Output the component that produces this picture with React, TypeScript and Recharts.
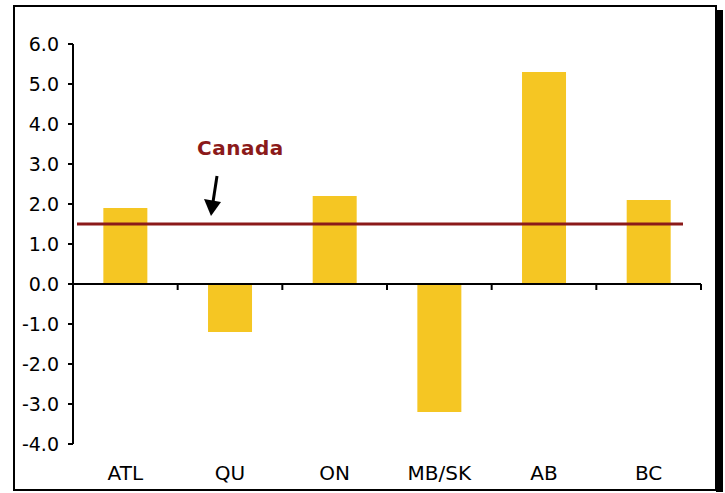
import React from 'react';
import {
  BarChart,
  Bar,
  XAxis,
  YAxis,
  ReferenceLine,
  Customized,
} from 'recharts';

const CATEGORIES = ['ATL', 'QU', 'ON', 'MB/SK', 'AB', 'BC'];
const GROWTH = [1.9, -1.2, 2.2, -3.2, 5.3, 2.1];
const CANADA_AVG = 1.5;
const Y_TICKS = [-4, -3, -2, -1, 0, 1, 2, 3, 4, 5, 6];

const FONT = '"DejaVu Sans", Verdana, sans-serif';
const BAR_COLOR = '#F5C623';
const CANADA_COLOR = '#8B1A1A';

const data = CATEGORIES.map((name, i) => ({ name, value: GROWTH[i] }));

// shortened version of the reference line, like in the original chart
function CanadaLine(props: any) {
  const { x1, x2, y1 } = props;
  return (
    <line
      x1={x1 + 4}
      x2={x2 - 18}
      y1={y1}
      y2={y1}
      stroke={CANADA_COLOR}
      strokeWidth={3}
    />
  );
}

function Annotation() {
  return (
    <g>
      {/* frame with shadow */}
      <rect x={14} y={6} width={702} height={484} fill="none" stroke="#000" strokeWidth={2} />
      <rect x={716} y={10} width={7} height={482} fill="#000" />
      <text
        x={197}
        y={155}
        fill={CANADA_COLOR}
        fontFamily={FONT}
        fontWeight="bold"
        fontSize={20}
        letterSpacing={0.5}
      >
        Canada
      </text>
      <line x1={217} y1={176} x2={213} y2={202} stroke="#000" strokeWidth={3} />
      <polygon points="204,199 221,202 211,216" fill="#000" />
    </g>
  );
}

export default function App() {
  return (
    <div style={{ position: 'absolute', left: 0, top: 0 }}>
      <BarChart
        width={725}
        height={493}
        data={data}
        margin={{ top: 44, right: 24, bottom: 19, left: 1 }}
        barCategoryGap="29%"
      >
        <XAxis
          dataKey="name"
          axisLine={false}
          tickLine={false}
          tickSize={0}
          tickMargin={22}
          height={30}
          interval={0}
          tick={{ fill: '#000', fontSize: 20, fontFamily: FONT }}
        />
        <YAxis
          type="number"
          domain={[-4, 6]}
          ticks={Y_TICKS}
          interval={0}
          width={72}
          tickFormatter={(v: number) => v.toFixed(1)}
          axisLine={{ stroke: '#000', strokeWidth: 2 }}
          tickLine={{ stroke: '#000', strokeWidth: 2 }}
          tickSize={5}
          tickMargin={9}
          tick={{ fill: '#000', fontSize: 19, fontFamily: FONT }}
        />
        <Bar dataKey="value" fill={BAR_COLOR} isAnimationActive={false} />
        <ReferenceLine y={0} stroke="#000" strokeWidth={2} />
        {CATEGORIES.map((c) => (
          <ReferenceLine
            key={c}
            segment={[
              { x: c, y: 0 },
              { x: c, y: -0.15 },
            ]}
            position="start"
            stroke="#000"
            strokeWidth={2}
          />
        ))}
        <ReferenceLine
          segment={[
            { x: CATEGORIES[CATEGORIES.length - 1], y: 0 },
            { x: CATEGORIES[CATEGORIES.length - 1], y: -0.15 },
          ]}
          position="end"
          stroke="#000"
          strokeWidth={2}
        />
        <ReferenceLine y={CANADA_AVG} shape={CanadaLine} />
        <Customized component={Annotation} />
      </BarChart>
    </div>
  );
}
